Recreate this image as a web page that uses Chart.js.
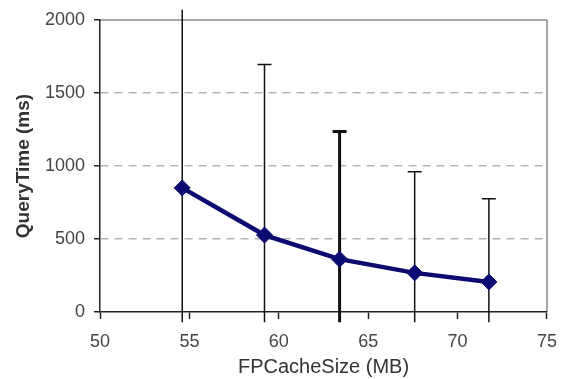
<!DOCTYPE html>
<html>
<head>
<meta charset="utf-8">
<script src="https://cdn.jsdelivr.net/npm/chart.js@4.4.0/dist/chart.umd.min.js"></script>
<style>
  html, body { margin: 0; padding: 0; background: #fff; }
  #wrap { width: 569px; height: 379px; }
</style>
</head>
<body>
<div id="wrap"><canvas id="chart"></canvas></div>
<script>
const cacheSizes = [54.6, 59.2, 63.4, 67.6, 71.75];
const queryTimes = [850, 527, 362, 268, 206];
const errHigh = [2070, 1695, 1237, 960, 775];
const errLow = [-70, -70, -70, -70, -70];
const errWidths = [1.5, 1.5, 3, 1.5, 1.5];
const xTicks = [50, 55, 60, 65, 70, 75];
const yTicks = [0, 500, 1000, 1500, 2000];

const errorBars = {
    id: "errorBars",
    beforeDatasetsDraw(chart) {
        const { ctx, scales } = chart;
        const x = scales.x, y = scales.y;
        ctx.save();
        ctx.strokeStyle = "#111";
        cacheSizes.forEach((v, i) => {
            const px = x.getPixelForValue(v);
            const top = y.getPixelForValue(errHigh[i]);
            const bot = y.getPixelForValue(errLow[i]);
            ctx.lineWidth = errWidths[i];
            ctx.beginPath();
            ctx.moveTo(px, bot);
            ctx.lineTo(px, top);
            if (errHigh[i] <= y.max) {
                ctx.moveTo(px - 7, top);
                ctx.lineTo(px + 7, top);
            }
            ctx.stroke();
        });
        ctx.restore();
    },
    beforeDraw(chart) {
        // grey frame on top and right of the plot
        const { ctx, chartArea: a } = chart;
        ctx.save();
        ctx.strokeStyle = "#8a8a8a";
        ctx.lineWidth = 1.5;
        ctx.beginPath();
        ctx.moveTo(a.left, a.top);
        ctx.lineTo(a.right, a.top);
        ctx.lineTo(a.right, a.bottom);
        ctx.stroke();
        ctx.restore();
    },
};

new Chart(document.getElementById("chart"), {
    type: "line",
    data: {
        datasets: [
            {
                data: cacheSizes.map((v, i) => ({ x: v, y: queryTimes[i] })),
                borderColor: "#0b0b72",
                backgroundColor: "#0b0b72",
                borderWidth: 4.5,
                pointStyle: "rectRot",
                pointRadius: 8,
                pointBorderWidth: 1,
                tension: 0,
            },
        ],
    },
    options: {
        responsive: true,
        maintainAspectRatio: false,
        animation: false,
        layout: { padding: { top: 20, right: 18, left: 0, bottom: 0 } },
        scales: {
            x: {
                type: "linear",
                min: 50,
                max: 75,
                afterBuildTicks: (s) => { s.ticks = xTicks.map((v) => ({ value: v })); },
                afterFit: (s) => { s.height = 67; },
                ticks: {
                    color: "#444",
                    padding: 12,
                    font: { family: "Liberation Sans", size: 18 },
                    callback: (v) => String(v),
                },
                grid: {
                    drawOnChartArea: false,
                    tickLength: 7,
                    tickColor: "#222",
                    tickWidth: 1.5,
                },
                border: { color: "#222", width: 1.5 },
                title: {
                    display: true,
                    text: "FPCacheSize (MB)",
                    color: "#333",
                    padding: { top: 0, bottom: 0 },
                    font: { family: "Liberation Sans", size: 20 },
                },
            },
            y: {
                min: 0,
                max: 2000,
                afterBuildTicks: (s) => { s.ticks = yTicks.map((v) => ({ value: v })); },
                afterFit: (s) => { s.width = 100; },
                ticks: {
                    color: "#444",
                    padding: 9,
                    font: { family: "Liberation Sans", size: 18 },
                    callback: (v) => String(v),
                },
                grid: {
                    color: (c) => (c.tick && (c.tick.value === 0 || c.tick.value === 2000) ? "rgba(0,0,0,0)" : "#b5b5b5"),
                    lineWidth: 1.5,
                    tickLength: 6,
                    tickColor: "#222",
                    tickWidth: 1.5,
                    tickBorderDash: [],
                },
                border: { color: "#222", width: 1.5, dash: [8, 6] },
                title: {
                    display: true,
                    text: "QueryTime (ms)",
                    color: "#333",
                    padding: { top: 12, bottom: 0 },
                    font: { family: "Liberation Sans", size: 19, weight: "bold" },
                },
            },
        },
        plugins: {
            legend: { display: false },
            tooltip: { enabled: false },
        },
    },
    plugins: [errorBars],
});
</script>
</body>
</html>
